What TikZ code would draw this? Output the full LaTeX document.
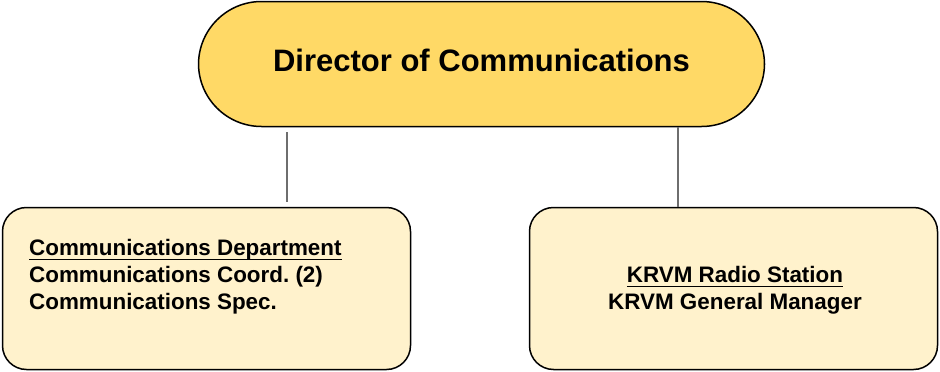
\documentclass[tikz,border=0pt]{standalone}
\usepackage{fontspec}
\setmainfont{Liberation Sans}
\frenchspacing
\definecolor{pillfill}{HTML}{FFD966}
\definecolor{boxfill}{HTML}{FFF2CC}
\definecolor{conncol}{HTML}{6E6E6E}
\newcommand\myul[1]{\setbox0\hbox{#1}\rlap{\rule[-4.5pt]{\wd0}{1.8pt}}\box0}
\begin{document}
\begin{tikzpicture}[x=1pt,y=-1pt,
  pill/.style={draw=black, fill=pillfill, line width=1.5pt, rounded corners=63pt,
    minimum width=566pt, minimum height=125pt, inner sep=0pt,
    font=\fontsize{31}{36}\selectfont\bfseries},
  unitbox/.style={draw=black, fill=boxfill, line width=1.5pt, rounded corners=24pt,
    minimum width=408pt, minimum height=162pt, inner sep=0pt},
  unittext/.style={font=\fontsize{22.4}{27}\selectfont\bfseries, inner sep=0pt},
  conn/.style={draw=conncol, line width=1.6pt}]
\useasboundingbox (0,0) rectangle (940,372);
\node[pill] (dir) at (481.5,64) {\raisebox{3.5pt}[\height][\depth]{Director of Communications}};
\node[unitbox] (lbox) at (206.5,288.5) {};
\node[unitbox] (rbox) at (733.5,288.5) {};
\node[unittext, align=left, anchor=north west] (ltext) at (29,239.5)
  {\myul{Communications Department}\\Communications Coord. (2)\\Communications Spec.};
\node[unittext, align=center, anchor=north] (rtext) at (735,266.5)
  {\myul{KRVM Radio Station}\\KRVM General Manager};
\coordinate (lx) at (287,0);
\coordinate (rx) at (678,0);
\draw[conn] ([yshift=-5pt]dir.south -| lx) -- ([yshift=5pt]lbox.north -| lx);
\draw[conn] (dir.south -| rx) -- (rbox.north -| rx);
\end{tikzpicture}
\end{document}
